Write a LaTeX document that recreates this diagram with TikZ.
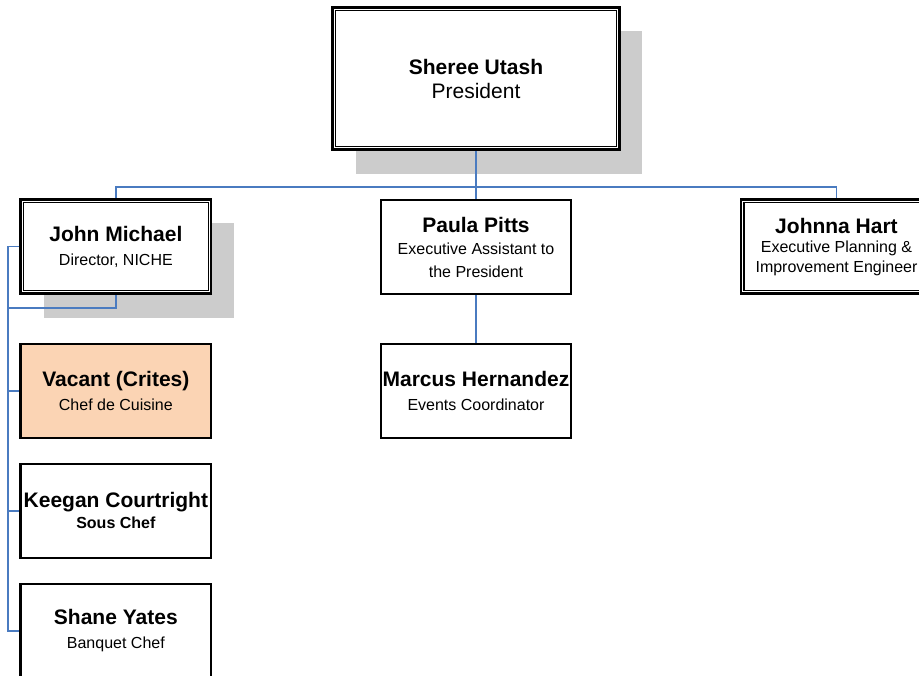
\documentclass[tikz,border=0pt]{standalone}
\usepackage{fontspec}
\setmainfont{Liberation Sans}
\usetikzlibrary{shadows}
\definecolor{connc}{HTML}{4A7BC0}
\definecolor{peach}{HTML}{FBD4B4}
\definecolor{shadowgray}{HTML}{CCCCCC}
\tikzset{
  box/.style={draw, line width=2.2pt, fill=white, minimum width=190.7pt, minimum height=94.3pt,
    align=center, inner sep=0pt, font=\fontsize{16}{24}\selectfont},
  dblbox/.style={box, line width=2.5pt},
  shadowed/.style={drop shadow={shadow xshift=23pt, shadow yshift=-24pt, fill=shadowgray, opacity=1}},
  connline/.style={draw=connc, line width=1.8pt},
  innerframe/.style={draw, line width=1.3pt},
}
\newcommand{\nm}[1]{{\fontsize{21}{24}\selectfont\bfseries #1}}
\begin{document}
\begin{tikzpicture}[x=1pt, y=-1pt]
\useasboundingbox (0,0) rectangle (919,676);
\clip (0,0) rectangle (919,676);
% nodes
\node[dblbox, shadowed, minimum width=286.7pt, minimum height=142.4pt,
      font=\fontsize{21}{24}\selectfont] (pres) at (476,78.5) {\textbf{Sheree Utash}\\President};
\node[dblbox, shadowed] (jm) at (115.85,246.6) {\nm{John Michael}\\Director, NICHE};
\node[box, font=\fontsize{16}{22.5}\selectfont] (pp) at (476,247) {\nm{Paula Pitts}\\Executive Assistant to\\the President};
\node[dblbox, font=\fontsize{16}{19.5}\selectfont] (jh) at (836.5,246.6) {\nm{Johnna Hart}\\Executive Planning \&\\Improvement Engineer};
\node[box, fill=peach] (vc) at (115.85,390.8) {\nm{Vacant (Crites)}\\Chef de Cuisine};
\node[box, font=\fontsize{16}{21}\selectfont] (kc) at (115.85,510.8) {\nm{Keegan Courtright}\\\textbf{Sous Chef}};
\node[box] (sy) at (115.85,630.8) {\nm{Shane Yates}\\Banquet Chef};
\node[box] (mh) at (476,390.8) {\nm{Marcus Hernandez}\\Events Coordinator};
% inner frames of the double-bordered boxes
\foreach \n in {pres,jm,jh}
  \draw[innerframe] ([shift={(4.2pt,-4.2pt)}]\n.north west) rectangle ([shift={(-4.2pt,4.2pt)}]\n.south east);
% connectors
\coordinate (busy) at (0,186.7);
\coordinate (rail) at (8,0);
\draw[connline] (pres.south) -- (pp.north);
\draw[connline] (jm.north) -- (jm.north |- busy) -- (jh.north |- busy) -- (jh.north);
\draw[connline] (pp.south) -- (mh.north);
\draw[connline] (jm.west) -- (jm.west -| rail) -- (sy.west -| rail) -- (sy.west);
\draw[connline] (jm.south) -- ([yshift=-13pt]jm.south) -- ([yshift=-13pt]jm.south -| rail);
\draw[connline] (vc.west -| rail) -- (vc.west);
\draw[connline] (kc.west -| rail) -- (kc.west);
\end{tikzpicture}
\end{document}
